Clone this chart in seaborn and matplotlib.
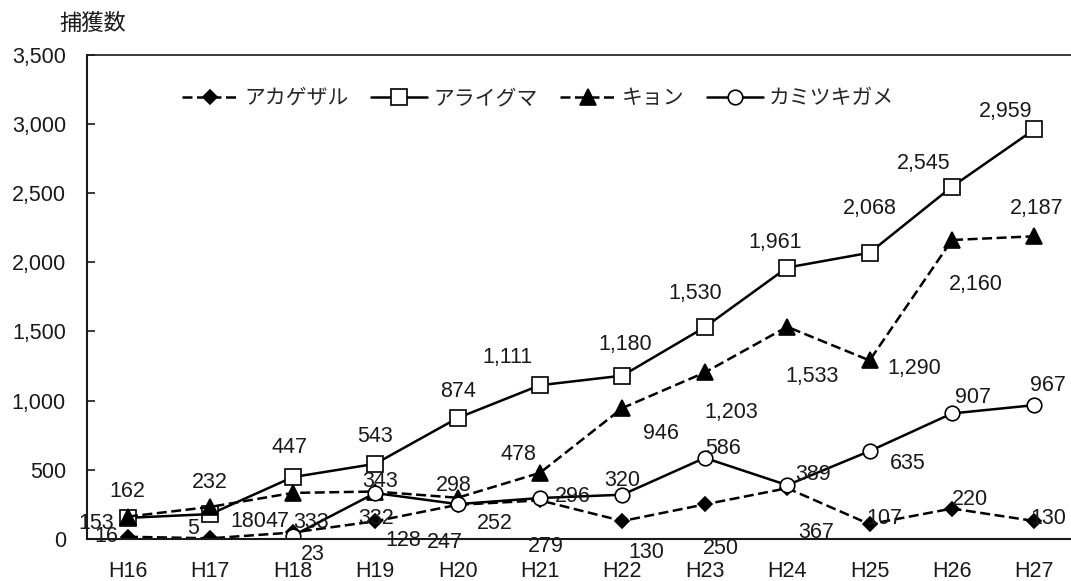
import numpy as np
import pandas as pd
import matplotlib
matplotlib.use("Agg")
import matplotlib.pyplot as plt
import seaborn as sns
from matplotlib.ticker import FuncFormatter, FixedLocator

# ---------------- data ----------------
years = ["H16", "H17", "H18", "H19", "H20", "H21", "H22", "H23", "H24", "H25", "H26", "H27"]
series_names = ["アカゲザル", "アライグマ", "キョン", "カミツキガメ"]
akagezaru = [16, 5, 47, 128, 247, 279, 130, 250, 367, 107, 220, 130]
araiguma = [153, 180, 447, 543, 874, 1111, 1180, 1530, 1961, 2068, 2545, 2959]
kyon = [162, 232, 333, 343, 298, 478, 946, 1203, 1533, 1290, 2160, 2187]
kamitsukigame = [np.nan, np.nan, 23, 332, 252, 296, 320, 586, 389, 635, 907, 967]
y_ticks = [0, 500, 1000, 1500, 2000, 2500, 3000, 3500]
y_axis_title = "捕獲数"

# ---------------- style / layout ----------------
sns.set_style("white")
plt.rcParams["font.family"] = ["Liberation Sans", "Noto Sans CJK JP", "DejaVu Sans"]

W, H = 1071, 581
fig = plt.figure(figsize=(W / 100, H / 100), dpi=100)
ax_left, ax_right = 86.8 / W, 1.0
ax_bottom, ax_top = 1 - 539 / H, 1 - 54.5 / H
ax = fig.add_axes([ax_left, ax_bottom, ax_right - ax_left, ax_top - ax_bottom])

lw = 1.8
dash = (0, (4, 1.8))
styles = {
    "アカゲザル": dict(marker="D", markersize=7, markerfacecolor="black", linestyle=dash),
    "アライグマ": dict(marker="s", markersize=11, markerfacecolor="white", linestyle="-"),
    "キョン": dict(marker="^", markersize=12, markerfacecolor="black", linestyle=dash),
    "カミツキガメ": dict(marker="o", markersize=10.5, markerfacecolor="white", linestyle="-"),
}
values = {
    "アカゲザル": akagezaru,
    "アライグマ": araiguma,
    "キョン": kyon,
    "カミツキガメ": kamitsukigame,
}

# label offsets (pixels: dx right, dy down) relative to each point
offsets = {
    "アカゲザル": [(-22, -2), (-17, -12), (-15, -13), (28, 17), (-13, 35), (6, 44),
                 (24, 29), (16, 42), (29, 42), (15, -8), (18, -11), (14, -5)],
    "アライグマ": [(-32, 3), (38, 5), (-3, -32), (0, -30), (0, -29), (-33, -30),
                 (3, -33), (-10, -36), (-12, -27), (0, -46), (-28, -25), (-29, -20)],
    "キョン": [(-1, -27), (-1, -27), (18, 27), (5, -12), (-4, -14), (-22, -21),
             (39, 23), (26, 38), (25, 48), (45, 6), (24, 42), (2, -30)],
    "カミツキガメ": [None, None, (20, 16), (1, 23), (37, 17), (33, -4),
                (0, -16), (18, -12), (26, -13), (38, 10), (21, -18), (14, -22)],
}

xpos = np.arange(len(years))
handles = []
for name in series_names:
    df = pd.DataFrame({"x": xpos, "v": values[name]}).dropna()
    st = styles[name]
    sns.lineplot(data=df, x="x", y="v", ax=ax, color="black", linewidth=lw,
                 marker=st["marker"], markersize=st["markersize"],
                 markerfacecolor=st["markerfacecolor"], markeredgecolor="black",
                 markeredgewidth=1.2, linestyle=st["linestyle"], label=name,
                 legend=False, errorbar=None, sort=False)
    line = ax.lines[-1]
    line.set_dash_capstyle("butt")
    handles.append(line)

fs = 15.5
cap_half = 0.716 * fs * 100 / 72 / 2
for name in series_names:
    for i, v in enumerate(values[name]):
        off = offsets[name][i]
        if off is None or np.isnan(v):
            continue
        dx, dy = off
        ax.annotate(f"{int(v):,}", xy=(i, v), xytext=(dx, -(dy + cap_half)),
                    textcoords="offset pixels", ha="center", va="baseline",
                    fontsize=fs, color="#1a1a1a", zorder=2, annotation_clip=False)

# axes
ax.set_xlim(-0.5, (W - 128) / 82.4)
ax.set_ylim(0, 3500)
ax.set_xticks(xpos)
ax.set_xticklabels(years)
ax.xaxis.set_minor_locator(FixedLocator(np.arange(0.5, len(years) + 0.5, 1.0)))
ax.set_yticks(y_ticks)
ax.yaxis.set_major_formatter(FuncFormatter(lambda v, p: f"{int(v):,}"))
ax.set_xlabel("")
ax.set_ylabel("")

ax.tick_params(axis="x", which="major", length=0, pad=15.5, labelsize=fs, colors="#1a1a1a")
ax.tick_params(axis="x", which="minor", direction="in", length=5, width=1.2, color="#1a1a1a")
ax.tick_params(axis="y", which="major", direction="in", length=5.8, width=1.2, pad=15,
               labelsize=fs, colors="#1a1a1a", left=True)
for side in ["left", "bottom", "top"]:
    ax.spines[side].set_visible(True)
    ax.spines[side].set_color("#1a1a1a")
ax.spines["left"].set_linewidth(1.5)
ax.spines["bottom"].set_linewidth(1.5)
ax.spines["top"].set_linewidth(1.2)
ax.spines["right"].set_visible(False)
ax.grid(False)

fig.text(93 / W, 1 - 23 / H, y_axis_title, ha="center", va="center", fontsize=16,
         color="#1a1a1a", family=["Noto Sans CJK JP", "DejaVu Sans"])

leg = ax.legend(handles, series_names, ncol=4, loc="center left",
                bbox_to_anchor=(182 / W, 1 - 98 / H), bbox_transform=fig.transFigure,
                frameon=False, handlelength=2.7, handletextpad=0.3,
                columnspacing=1.05, borderpad=0, borderaxespad=0,
                prop={"family": ["Noto Sans CJK JP", "DejaVu Sans"], "size": 15})

fig.savefig("out.png", dpi=100)
